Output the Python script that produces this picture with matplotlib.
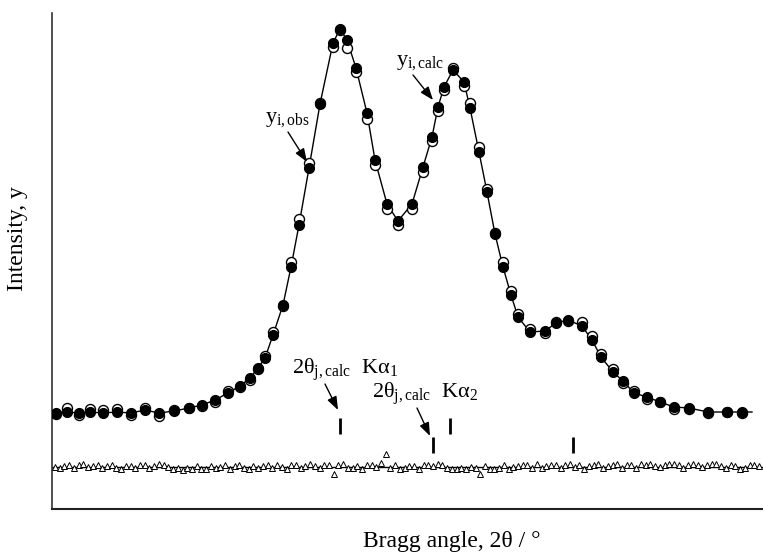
import numpy as np
import matplotlib
matplotlib.use("Agg")
import matplotlib.pyplot as plt

plt.rcParams['font.family'] = ['Liberation Serif', 'DejaVu Serif']
plt.rcParams['mathtext.fontset'] = 'custom'
plt.rcParams['mathtext.rm'] = 'Liberation Serif'
plt.rcParams['mathtext.it'] = 'Liberation Serif:italic'

# ---- data ----
two_theta = [40.08, 40.30, 40.54, 40.76, 41.02, 41.30, 41.58, 41.86, 42.14, 42.44,
             42.74, 43.00, 43.26, 43.52, 43.76, 43.96, 44.12, 44.26, 44.42, 44.62,
             44.78, 44.94, 45.14, 45.36, 45.62, 45.76, 45.90, 46.08, 46.30, 46.46,
             46.70, 46.92, 47.20, 47.42, 47.60, 47.72, 47.84, 48.02, 48.24, 48.36,
             48.54, 48.70, 48.86, 49.02, 49.18, 49.32, 49.56, 49.86, 50.08, 50.32,
             50.60, 50.80, 50.98, 51.22, 51.42, 51.64, 51.90, 52.16, 52.44, 52.74,
             53.12, 53.50, 53.80]
y_calc = [960, 970, 960, 970, 960, 970, 960, 990, 960, 980,
          1010, 1040, 1090, 1160, 1230, 1310, 1410, 1510, 1740, 2040,
          2420, 2840, 3410, 4050, 4660, 4800, 4690, 4410, 3960, 3490,
          3050, 2880, 3050, 3420, 3720, 4020, 4220, 4390, 4270, 4010,
          3570, 3170, 2750, 2420, 2140, 1920, 1770, 1780, 1860, 1890,
          1830, 1690, 1520, 1370, 1280, 1160, 1120, 1070, 1020, 1010,
          970, 970, 970]
y_obs = [950, 1010, 940, 1000, 990, 1000, 940, 1010, 930, 990,
         1010, 1030, 1070, 1180, 1220, 1290, 1400, 1530, 1770, 2030,
         2470, 2900, 3460, 4060, 4620, 4790, 4610, 4370, 3900, 3440,
         3000, 2840, 3000, 3370, 3680, 3980, 4190, 4410, 4230, 4060,
         3620, 3200, 2760, 2470, 2180, 1950, 1800, 1760, 1870, 1880,
         1870, 1730, 1550, 1400, 1260, 1180, 1100, 1070, 1000, 1000,
         960, 970, 960]
line_start = (40.0, 960)
line_end = (54.0, 970)

diff_offset = 425
diff = [0, -15, 10, 20, -10, 15, 25, -5, 10, 20,
        -10, 5, 20, -15, -20, 10, 5, -10, 15, 20,
        -10, 5, 25, 20, -5, -25, -15, -30, -10, -20,
        5, -20, -25, 10, -15, 0, 15, -20, 5, 15,
        -10, -20, 10, -15, 5, 20, -10, 15, 0, -20,
        15, 20, -10, 5, 25, 10, -10, 15, 20, -70,
        20, 25, -15, -10, 10, -20, 15, 20, -5, 35,
        125, -10, 15, -20, -15, 5, 10, -20, 15, 20,
        5, 25, 20, -10, -20, -25, -15, -20, 0, -10,
        -70, 10, -20, -25, -10, 15, -20, -5, 10, 20,
        15, -10, 25, -15, 10, 20, 15, -10, 20, 25,
        -5, 15, -20, 10, 20, 25, -10, 5, 20, 25,
        -15, 15, 20, -10, 25, 20, 30, 10, -5, 20,
        25, 30, 15, -10, 20, 25, 15, -5, 20, 30,
        25, 10, -15, 20, 5, -20, -10, 15, 20, 10]
diff_x = np.linspace(40.06, 54.14, len(diff))

ka1_pos = [45.76, 47.96]
ka2_pos = [47.62, 50.42]

# ---- figure ----
W, H = 763, 557
fig = plt.figure(figsize=(W / 100, H / 100), dpi=100)
ax = fig.add_axes([52 / W, (H - 509) / H, (W - 52) / W, (509 - 13) / H])
ax.set_xlim(40.0, 54.22)
ax.set_ylim(0, 4960)

lx = [line_start[0]] + two_theta + [line_end[0]]
ly = [line_start[1]] + y_calc + [line_end[1]]
ax.plot(lx, ly, color='black', lw=1.0, zorder=2)
ax.plot(two_theta, y_obs, 'o', ms=7.2, mfc='white', mec='black', mew=1.0, zorder=3)
ax.plot(two_theta, y_calc, 'o', ms=7.2, mfc='black', mec='black', mew=0.8, zorder=4)

ax.plot([40.0, 54.22], [diff_offset, diff_offset], color='black', lw=1.0, zorder=2)
ax.plot(diff_x, np.array(diff) + diff_offset, '^', ms=4.5, mfc='white', mec='black',
        mew=0.7, zorder=3, clip_on=False)

ax.vlines(ka1_pos, 750, 910, color='black', lw=2.0)
ax.vlines(ka2_pos, 560, 720, color='black', lw=2.0)

arrow = dict(arrowstyle='-|>,head_length=0.8,head_width=0.3', color='black', lw=1.0,
             shrinkA=0, shrinkB=0)
fs = 16
ax.text(44.26, 3870, r'y$_\mathregular{i,obs}$', fontsize=fs, ha='left', va='baseline')
ax.annotate('', xy=(45.10, 3470), xytext=(44.72, 3770), arrowprops=arrow)
ax.text(46.88, 4440, r'y$_\mathregular{i,calc}$', fontsize=fs, ha='left', va='baseline')
ax.annotate('', xy=(47.62, 4090), xytext=(47.22, 4340), arrowprops=arrow)
ax.text(44.80, 1350, r'2θ$_\mathregular{j,calc}$  Kα$_\mathregular{1}$', fontsize=fs,
        ha='left', va='baseline')
ax.annotate('', xy=(45.72, 990), xytext=(45.46, 1250), arrowprops=arrow)
ax.text(46.40, 1110, r'2θ$_\mathregular{j,calc}$  Kα$_\mathregular{2}$', fontsize=fs,
        ha='left', va='baseline')
ax.annotate('', xy=(47.56, 730), xytext=(47.30, 1010), arrowprops=arrow)

for s in ['top', 'right']:
    ax.spines[s].set_visible(False)
ax.spines['left'].set_linewidth(1.2)
ax.spines['left'].set_color('#333333')
ax.spines['bottom'].set_linewidth(1.5)
ax.spines['bottom'].set_color('#222222')
ax.set_xticks([])
ax.set_yticks([])

fig.text(452 / W, 1 - 541 / H, 'Bragg angle, 2θ / °', fontsize=17, ha='center', va='center')
fig.text(18 / W, 1 - 239 / H, 'Intensity, y', fontsize=17, ha='center', va='center',
         rotation=90)

fig.savefig('out.png', dpi=100)
